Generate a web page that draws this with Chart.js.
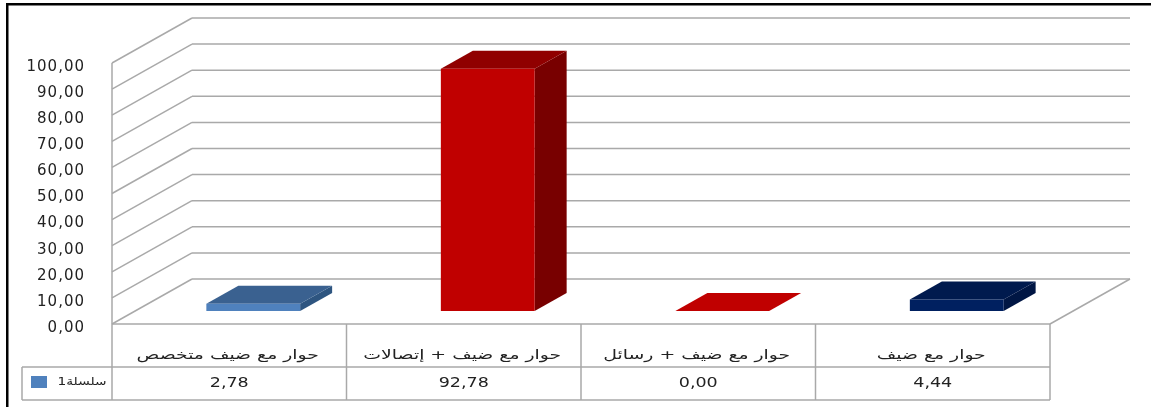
<!DOCTYPE html>
<html>
<head>
<meta charset="utf-8">
<style>
  html, body { margin: 0; padding: 0; background: #fff; }
  #wrap { position: relative; width: 1151px; height: 407px; }
</style>
<script src="https://cdn.jsdelivr.net/npm/chart.js@4"></script>
</head>
<body>
<div id="wrap"><canvas id="myChart" width="1151" height="407"></canvas></div>
<script>
// data
var categories = ["حوار مع ضيف متخصص", "حوار مع ضيف + إتصالات", "حوار مع ضيف + رسائل", "حوار مع ضيف"];
var values = [2.78, 92.78, 0.00, 4.44];
var seriesName = "سلسلة1";

var frontColors = ["#4f81bd", "#c00000", "#c00000", "#002060"];
var topColors = ["#3a6190", "#900000", "#c00000", "#001a4e"];
var sideColors = ["#2e5580", "#780000", "#c00000", "#001644"];

// depth of the 3d box, relative to the plane the bars stand on
var FRONT = { x: -24, y: 13 };
var BACK = { x: 56, y: -32 };
var BAR_DEPTH = { x: 32, y: -18 };
var GRID = "#a9a9a9";
var FONT = "DejaVu Sans";

function comma(v) { return Number(v).toFixed(2).replace(".", ","); }

function line(ctx, x1, y1, x2, y2) {
    ctx.beginPath();
    ctx.moveTo(x1, y1);
    ctx.lineTo(x2, y2);
    ctx.stroke();
}

function poly(ctx, pts, color) {
    ctx.fillStyle = color;
    ctx.beginPath();
    ctx.moveTo(pts[0][0], pts[0][1]);
    for (var i = 1; i < pts.length; i++) ctx.lineTo(pts[i][0], pts[i][1]);
    ctx.closePath();
    ctx.fill();
}

function wideText(ctx, text, x, y, sx) {
    ctx.save();
    ctx.translate(x, y);
    ctx.scale(sx, 1);
    ctx.fillText(text, 0, 0);
    ctx.restore();
}

var box3d = {
    id: "box3d",
    beforeDraw: function (chart) {
        // the axis numbers are wider in the picture than the font
        chart.ctx.letterSpacing = "1px";
    },
    beforeDatasetsDraw: function (chart) {
        var ctx = chart.ctx, a = chart.chartArea, yS = chart.scales.y;
        var fl = a.left + FRONT.x, fr = a.right + FRONT.x;
        var bl = a.left + BACK.x, br = a.right + BACK.x;

        ctx.save();
        ctx.strokeStyle = GRID;
        ctx.lineWidth = 1.5;

        // walls
        yS.ticks.forEach(function (t) {
            var y = yS.getPixelForValue(t.value);
            line(ctx, fl, y + FRONT.y, bl, y + BACK.y);
            line(ctx, bl, y + BACK.y, br, y + BACK.y);
        });
        line(ctx, fl, yS.getPixelForValue(100) + FRONT.y, fl, yS.getPixelForValue(0) + FRONT.y);

        // floor right edge
        var y0 = yS.getPixelForValue(0);
        line(ctx, fr, y0 + FRONT.y, br, y0 + BACK.y);
        ctx.restore();

        // sides and tops of the bars
        chart.getDatasetMeta(0).data.forEach(function (bar, i) {
            var l = bar.x - bar.width / 2, r = bar.x + bar.width / 2;
            var top = bar.y, bot = bar.base, d = BAR_DEPTH;
            poly(ctx, [[r, top], [r + d.x, top + d.y], [r + d.x, bot + d.y], [r, bot]], sideColors[i]);
            poly(ctx, [[l, top], [l + d.x, top + d.y], [r + d.x, top + d.y], [r, top]], topColors[i]);
        });
    },
    afterDraw: function (chart) {
        var ctx = chart.ctx, a = chart.chartArea, xS = chart.scales.x, yS = chart.scales.y;
        var fl = a.left + FRONT.x, fr = a.right + FRONT.x;
        var y0 = yS.getPixelForValue(0) + FRONT.y;
        var rowA = y0 + 43, rowB = y0 + 76;
        var legendLeft = 22;

        ctx.save();
        ctx.letterSpacing = "0px";
        // outer black frame of the picture, top and left only
        ctx.fillStyle = "#000";
        ctx.fillRect(6, 3, chart.width - 6, 2.5);
        ctx.fillRect(6, 3, 2.5, chart.height - 3);

        // data table
        ctx.strokeStyle = GRID;
        ctx.lineWidth = 1.5;
        line(ctx, fl, y0, fr, y0);
        line(ctx, legendLeft, rowA, fr, rowA);
        line(ctx, legendLeft, rowB, fr, rowB);
        line(ctx, legendLeft, rowA, legendLeft, rowB);
        var colW = (fr - fl) / categories.length;
        for (var c = 0; c <= categories.length; c++) {
            line(ctx, fl + c * colW, y0, fl + c * colW, rowB);
        }

        ctx.fillStyle = "#222";
        ctx.textAlign = "center";
        ctx.textBaseline = "middle";
        categories.forEach(function (name, i) {
            var cx = xS.getPixelForValue(i) + FRONT.x;
            ctx.font = "13px '" + FONT + "'";
            wideText(ctx, name, cx - 1.5, y0 + 32, 1.45);
            ctx.font = "14px '" + FONT + "'";
            wideText(ctx, comma(values[i]), cx, rowA + 16, 1.25);
        });

        // legend key in the first table cell
        ctx.fillStyle = frontColors[0];
        ctx.fillRect(31, rowA + 9, 16, 12);
        ctx.fillStyle = "#222";
        ctx.font = "11px '" + FONT + "'";
        wideText(ctx, seriesName, 82, rowA + 15, 1.25);
        ctx.restore();
    }
};

new Chart("myChart", {
    type: "bar",
    plugins: [box3d],
    data: {
        labels: categories,
        datasets: [{
            label: seriesName,
            data: values,
            backgroundColor: frontColors,
            borderWidth: 0,
            barPercentage: 0.4,
            categoryPercentage: 1
        }]
    },
    options: {
        responsive: false,
        animation: false,
        events: [],
        layout: { autoPadding: false, padding: { left: 0, right: 77, top: 50, bottom: 96 } },
        plugins: { legend: { display: false }, tooltip: { enabled: false } },
        scales: {
            x: { display: false },
            y: {
                min: 0,
                max: 100,
                afterFit: function (scale) { scale.width = 136; },
                // tickLength pushes the labels left of the front wall
                grid: { display: false, drawTicks: true, tickLength: 51 },
                border: { display: false },
                ticks: {
                    stepSize: 10,
                    padding: 0,
                    labelOffset: 17,
                    color: "#222",
                    font: { family: FONT, size: 15 },
                    callback: function (v) { return comma(v); }
                }
            }
        }
    }
});
</script>
</body>
</html>
